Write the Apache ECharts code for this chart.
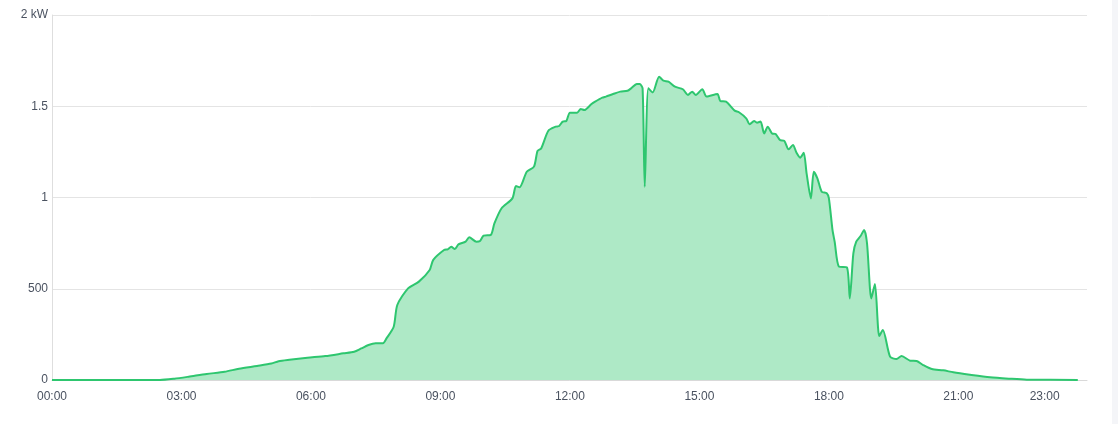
<!DOCTYPE html>
<html>
<head>
<meta charset="utf-8">
<script src="https://cdn.jsdelivr.net/npm/echarts@6/dist/echarts.min.js"></script>
<style>
html,body{margin:0;padding:0;background:#fff;}
#chart{width:1118px;height:424px;}
</style>
</head>
<body>
<div id="chart"></div>
<script>
const times = ["00:00","02:30","02:50","03:10","03:35","04:00","04:20","04:45","05:05","05:15","05:30","05:55","06:20","06:45","07:00","07:10","07:20","07:30","07:40","07:45","07:55","08:00","08:15","08:30","08:45","08:50","09:05","09:10","09:15","09:20","09:25","09:35","09:40","09:50","09:55","10:00","10:10","10:15","10:25","10:40","10:45","10:50","11:00","11:10","11:15","11:20","11:30","11:40","11:45","11:50","11:55","12:00","12:10","12:15","12:20","12:30","12:35","12:45","12:50","13:00","13:10","13:20","13:25","13:33","13:37","13:41","13:44","13:49","13:55","14:04","14:10","14:17","14:26","14:37","14:44","14:50","14:55","15:04","15:10","15:25","15:29","15:37","15:49","15:55","16:05","16:10","16:16","16:20","16:25","16:30","16:35","16:41","16:46","16:52","16:58","17:04","17:10","17:15","17:20","17:25","17:29","17:35","17:39","17:44","17:50","17:57","18:00","18:05","18:08","18:14","18:25","18:29","18:34","18:38","18:44","18:49","18:53","18:59","19:04","19:10","19:15","19:25","19:34","19:41","19:53","20:02","20:11","20:23","20:39","20:53","21:16","21:44","22:12","22:35","23:46"];
const power = [0,0,7,18,33,45,62,77,90,103,111,122,131,146,155,173,192,201,201,228,292,411,502,539,603,658,712,716,730,718,743,758,782,758,762,791,795,858,941,995,1063,1056,1141,1169,1256,1269,1366,1388,1392,1416,1419,1465,1465,1485,1479,1512,1525,1547,1553,1567,1580,1585,1598,1622,1622,1598,1059,1598,1576,1662,1640,1635,1607,1593,1562,1580,1562,1593,1553,1567,1529,1525,1476,1467,1434,1401,1419,1410,1416,1351,1388,1351,1348,1315,1310,1264,1288,1245,1218,1245,1132,995,1141,1105,1032,1023,995,822,758,621,617,447,694,758,789,822,749,447,526,241,274,128,115,131,106,104,82,60,53,42,29,15,7,2,0];
const xTickHours = [0,3,6,9,12,15,18,21,23];
const yTicks = [0,500,1000,1500,2000];

const toH = t => { const [h,m] = t.split(':').map(Number); return h + m/60; };
const pad = n => (n < 10 ? '0' : '') + n;
const data = times.map((t,i) => [toH(t), power[i]]);

const chart = echarts.init(document.getElementById('chart'));
chart.setOption({
  animation: false,
  grid: {left: 52, right: 31, top: 15, bottom: 44},
  graphic: [{type:'rect', right: 0, top: 0, shape:{width:6, height:424}, style:{fill:'#f4f5f8'}}],
  xAxis: {
    type: 'value', min: 0, max: 23.98,
    axisLine: {show: true, lineStyle: {color: '#d9d9d9', width: 1}},
    axisTick: {show: false},
    splitLine: {show: false},
    axisLabel: {
      customValues: xTickHours,
      formatter: v => pad(Math.round(v)) + ':00',
      color: '#4a5260', fontSize: 12, fontFamily: 'Liberation Sans, Arial, sans-serif', margin: 11
    }
  },
  yAxis: {
    type: 'value', min: yTicks[0], max: yTicks[yTicks.length-1], interval: 500,
    axisLine: {show: true, lineStyle: {color: '#dedede', width: 1}},
    axisTick: {show: false},
    splitLine: {lineStyle: {color: '#e4e4e4', width: 1}},
    axisLabel: {
      formatter: v => v === 0 ? '0' : (v < 1000 ? String(v) : (v/1000) + (v === 2000 ? ' kW' : '')),
      color: '#4a5260', fontSize: 12, fontFamily: 'Liberation Sans, Arial, sans-serif', margin: 4
    }
  },
  series: [{
    type: 'line', data: data, showSymbol: false, smooth: 0.25,
    lineStyle: {color: '#2ec66f', width: 2},
    itemStyle: {color: '#2ec66f'},
    areaStyle: {color: '#aee9c6', opacity: 1}
  }]
});
</script>
</body>
</html>
